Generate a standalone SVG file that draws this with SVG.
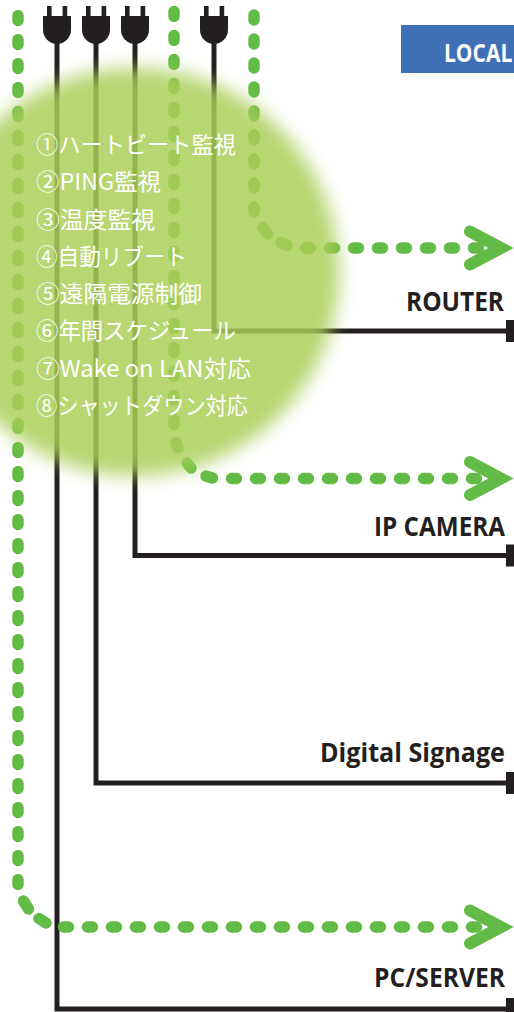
<svg xmlns="http://www.w3.org/2000/svg" xmlns:xlink="http://www.w3.org/1999/xlink" width="514" height="1012" viewBox="0 0 514 1012">
<style>
.wire{fill:none;stroke:#231f20;stroke-width:5}
.cap{fill:#231f20}
.dot{fill:none;stroke:#62bb46;stroke-width:11.5;stroke-linecap:round}
.dash{stroke-dasharray:5 19}
.head{fill:none;stroke:#62bb46;stroke-width:12;stroke-linecap:round;stroke-linejoin:miter;stroke-miterlimit:4}
.plug{fill:#231f20}
.lbl{font-family:"Open Sans","Liberation Sans",sans-serif;font-weight:700;font-size:27px;fill:#231f20;text-anchor:start}
.item{font-family:"Noto Sans CJK JP","Noto Sans",sans-serif;font-size:23px;fill:#fff;font-weight:400}
</style>
<defs>
<filter id="soft" x="-15%" y="-15%" width="130%" height="130%"><feGaussianBlur stdDeviation="9"/></filter>
<path id="plugShape" d="M-10 6h4.6v10h-4.6zM5.6 6h4.6v10h-4.6zM-14 16H14V30C14 38 7 44 0 44C-7 44-14 38-14 30Z"/>
</defs>
<rect width="514" height="1012" fill="#fff"/>
<g id="connectors">
<path class="wire" d="M57 40V1009H510"/>
<path class="wire" d="M96 40V783H510"/>
<path class="wire" d="M135 40V555.5H510"/>
<path class="wire" d="M214 40V331H510"/>
<path class="dot dash" d="M18 15.5V884.5"/>
<path class="dot" d="M23.5 901L28.5 909M39 918.5L46 923"/>
<path class="dot dash" d="M63.5 927H476.5"/>
<path class="dot dash" d="M174 11.5V424.5"/>
<path class="dot" d="M176 442.5L178 447.5M187 463L191 468M206 476L212.5 478"/>
<path class="dot dash" d="M231.5 478.5H476.5"/>
<path class="dot dash" d="M254 15V212"/>
<path class="dot" d="M263 227.5L267.5 234M281 242.5L287 245.5"/>
<path class="dot dash" d="M305.5 248H478.5"/>
</g>
<g id="zone"><circle cx="135" cy="272" r="204" fill="#aace57" fill-opacity="0.84" filter="url(#soft)"/></g>
<g id="arrows">
<path class="head" d="M470 231.5L501 248L470 264.5"/>
<path class="head" d="M470 462L501 478.5L470 495"/>
<path class="head" d="M470 910.5L501 927L470 943.5"/>
</g>
<g id="plug1" class="plug"><use xlink:href="#plugShape" href="#plugShape" x="57"/></g>
<g id="plug2" class="plug"><use xlink:href="#plugShape" href="#plugShape" x="96"/></g>
<g id="plug3" class="plug"><use xlink:href="#plugShape" href="#plugShape" x="135"/></g>
<g id="plug4" class="plug"><use xlink:href="#plugShape" href="#plugShape" x="214"/></g>
<g id="local"><rect x="401" y="25" width="113" height="48" fill="#3f6fb5"/><text transform="translate(444 62) scale(.84 1)" font-family="'Open Sans','Liberation Sans',sans-serif" font-weight="700" font-size="25" fill="#fff">LOCAL</text></g>
<g id="router"><rect class="cap" x="506" y="320" width="8" height="22"/><text class="lbl" transform="translate(406 311) scale(.85 1)" textLength="115.3" lengthAdjust="spacingAndGlyphs">ROUTER</text></g>
<g id="ipcamera"><rect class="cap" x="506" y="544.5" width="8" height="22"/><text class="lbl" transform="translate(374 536) scale(.85 1)" textLength="154.1" lengthAdjust="spacingAndGlyphs">IP CAMERA</text></g>
<g id="signage"><rect class="cap" x="506" y="772" width="8" height="22"/><text class="lbl" transform="translate(320 762) scale(.85 1)" textLength="217.6" lengthAdjust="spacingAndGlyphs">Digital Signage</text></g>
<g id="pcserver"><rect class="cap" x="506" y="998" width="8" height="14"/><text class="lbl" transform="translate(374 987) scale(.85 1)" textLength="154.1" lengthAdjust="spacingAndGlyphs">PC/SERVER</text></g>
<g id="features">
<text class="item" x="36" y="153" textLength="200" lengthAdjust="spacingAndGlyphs">①ハートビート監視</text>
<text class="item" x="36" y="190" textLength="125" lengthAdjust="spacingAndGlyphs">②PING監視</text>
<text class="item" x="36" y="228" textLength="119" lengthAdjust="spacingAndGlyphs">③温度監視</text>
<text class="item" x="36" y="265" textLength="151" lengthAdjust="spacingAndGlyphs">④自動リブート</text>
<text class="item" x="36" y="302" textLength="166" lengthAdjust="spacingAndGlyphs">⑤遠隔電源制御</text>
<text class="item" x="36" y="339" textLength="200" lengthAdjust="spacingAndGlyphs">⑥年間スケジュール</text>
<text class="item" x="36" y="377" textLength="215" lengthAdjust="spacingAndGlyphs">⑦Wake on LAN対応</text>
<text class="item" x="36" y="414" textLength="212" lengthAdjust="spacingAndGlyphs">⑧シャットダウン対応</text>
</g>
</svg>
